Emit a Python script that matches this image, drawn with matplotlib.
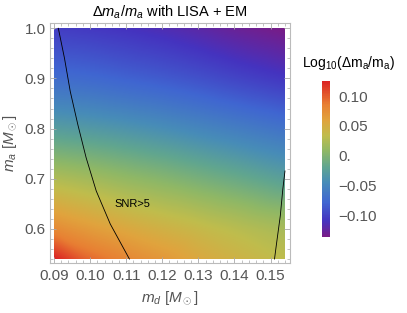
import numpy as np
import matplotlib
matplotlib.use('Agg')
import matplotlib.pyplot as plt
import matplotlib.tri as mtri
from matplotlib.colors import LinearSegmentedColormap
from matplotlib.ticker import MultipleLocator, FixedLocator, FixedFormatter

plt.rcParams['font.family'] = ['Liberation Sans', 'DejaVu Sans']
plt.rcParams['mathtext.fontset'] = 'custom'
plt.rcParams['mathtext.rm'] = 'Liberation Sans'
plt.rcParams['mathtext.it'] = 'Liberation Sans:italic'

# grid: log10(dm_a/m_a)
md_grid = [0.09, 0.10, 0.11, 0.12, 0.13, 0.14, 0.154]
ma_grid = [0.54, 0.60, 0.70, 0.80, 0.90, 1.00]
log_dm = [
    # md=0.09  0.10    0.11    0.12    0.13    0.14    0.154
    [0.125, 0.095, 0.080, 0.068, 0.055, 0.045, 0.033],    # ma=0.54
    [0.078, 0.065, 0.055, 0.046, 0.038, 0.030, 0.020],    # ma=0.60
    [0.025, 0.018, 0.010, 0.003, -0.005, -0.013, -0.025],  # ma=0.70
    [-0.028, -0.032, -0.037, -0.043, -0.050, -0.057, -0.067],
    [-0.072, -0.075, -0.080, -0.085, -0.091, -0.098, -0.107],
    [-0.103, -0.106, -0.110, -0.115, -0.121, -0.128, -0.136],
]

# SNR = 5 contours
snr_left_md = [0.0912, 0.0929, 0.0945, 0.0966, 0.0989, 0.1017, 0.1056, 0.1109]
snr_left_ma = [1.000, 0.9405, 0.8742, 0.8081, 0.7421, 0.6758, 0.6097, 0.540]
snr_right_md = [0.1540, 0.1534, 0.1527, 0.1517, 0.1511]
snr_right_ma = [0.7155, 0.679, 0.626, 0.573, 0.540]

x_ticks = [0.09, 0.10, 0.11, 0.12, 0.13, 0.14, 0.15]
y_ticks = [0.6, 0.7, 0.8, 0.9, 1.0]
cb_ticks = [0.10, 0.05, 0.0, -0.05, -0.10]
cb_labels = ['0.10', '0.05', '0.', '\u22120.05', '\u22120.10']

vmin, vmax = -0.136, 0.125

rainbow = LinearSegmentedColormap.from_list('mma_rainbow', [
    (0.00, (0.47, 0.11, 0.53)),
    (0.10, (0.27, 0.20, 0.75)),
    (0.22, (0.25, 0.40, 0.82)),
    (0.35, (0.28, 0.55, 0.72)),
    (0.45, (0.38, 0.65, 0.56)),
    (0.55, (0.56, 0.72, 0.40)),
    (0.65, (0.75, 0.74, 0.30)),
    (0.75, (0.88, 0.64, 0.24)),
    (0.85, (0.91, 0.50, 0.20)),
    (1.00, (0.86, 0.14, 0.14)),
])

fig = plt.figure(figsize=(4.07, 3.13), dpi=100)
ax = fig.add_axes([0.1229, 0.1588, 0.5897, 0.7668])

# smooth the coarse grid with a cubic triangulation interpolator
mdg, mag = np.meshgrid(md_grid, ma_grid)
tri = mtri.Triangulation(mdg.ravel(), mag.ravel())
interp = mtri.CubicTriInterpolator(tri, np.array(log_dm).ravel(), kind='geom')
xf = np.linspace(md_grid[0], md_grid[-1], 300)
yf = np.linspace(ma_grid[0], ma_grid[-1], 300)
xx, yy = np.meshgrid(xf, yf)
zz = interp(xx, yy)

im = ax.imshow(zz, origin='lower', aspect='auto', cmap=rainbow,
               vmin=vmin, vmax=vmax, interpolation='bilinear',
               extent=[md_grid[0], md_grid[-1], ma_grid[0], ma_grid[-1]])

ax.plot(snr_left_md, snr_left_ma, color='k', lw=0.6)
ax.plot(snr_right_md, snr_right_ma, color='k', lw=0.6)
ax.text(0.1117, 0.649, 'SNR>5', fontsize=8, ha='center', va='center')

ax.set_xlim(0.0889, 0.1554)
ax.set_ylim(0.5315, 1.0099)

ax.xaxis.set_major_locator(FixedLocator(x_ticks))
ax.xaxis.set_major_formatter(FixedFormatter(['%.2f' % t for t in x_ticks]))
ax.xaxis.set_minor_locator(MultipleLocator(0.002))
ax.yaxis.set_major_locator(FixedLocator(y_ticks))
ax.yaxis.set_major_formatter(FixedFormatter(['%.1f' % t for t in y_ticks]))
ax.yaxis.set_minor_locator(MultipleLocator(0.02))

ax.tick_params(which='both', direction='in', top=True, right=True,
               color='#aaaaaa', labelcolor='#555555', labelsize=11)
ax.tick_params(which='major', length=4, width=0.6)
ax.tick_params(which='minor', length=2, width=0.5)
ax.tick_params(axis='x', pad=4)
ax.tick_params(axis='y', pad=3)
for sp in ax.spines.values():
    sp.set_color('#bbbbbb')
    sp.set_linewidth(0.8)

ax.set_title(r'$\Delta m_a/m_a$ with LISA + EM', fontsize=10.5, pad=5)
ax.set_xlabel(r'$m_d\ [M_\odot]$', fontsize=11, color='#555555', labelpad=5)
ax.set_ylabel(r'$m_a\ [M_\odot]$', fontsize=11, color='#555555', labelpad=4)

cax = fig.add_axes([0.790, 0.2438, 0.0204, 0.497])
cb = fig.colorbar(im, cax=cax)
cb.outline.set_visible(False)
cb.set_ticks(cb_ticks)
cb.set_ticklabels(cb_labels)
cax.tick_params(length=0, pad=6, labelsize=11, labelcolor='#555555')
fig.text(0.857, 0.800, r'Log$_{10}$($\mathrm{\Delta m_a/m_a}$)',
         fontsize=10, ha='center', va='center')

fig.savefig('out.png', dpi=100)
